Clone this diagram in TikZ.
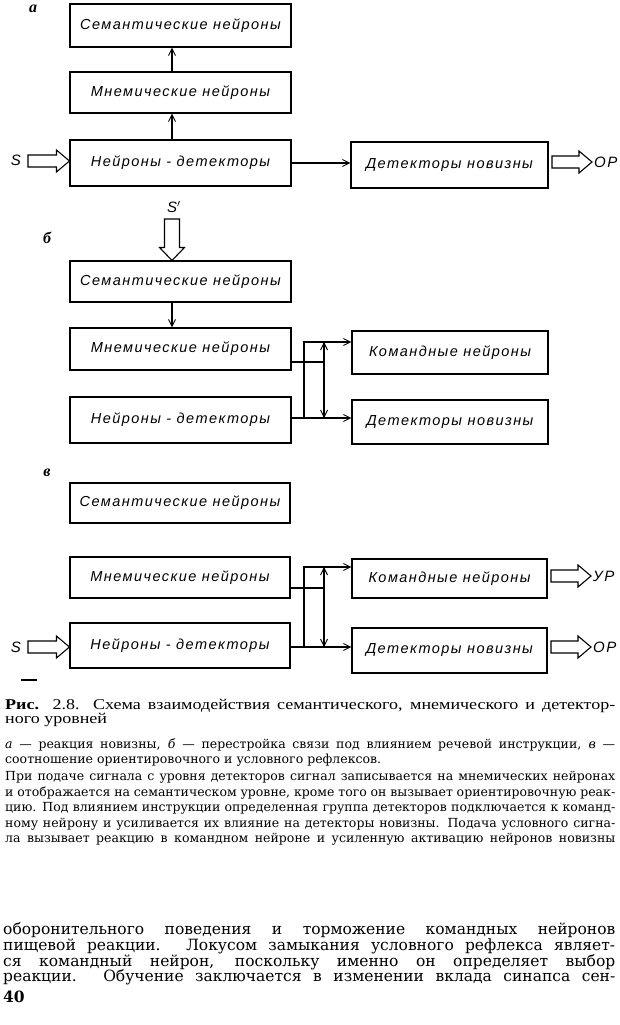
\documentclass[tikz,border=0pt]{standalone}
\usepackage{fontspec}
\setmainfont{DejaVu Serif}
\newfontfamily\boxf{Liberation Sans}[LetterSpace=10.0]
\newfontfamily\serf{Liberation Serif}
\newfontfamily\headf{Liberation Serif}[FakeStretch=1.2]
\usetikzlibrary{arrows.meta,calc}
\newcommand\hollowE[2]{\draw[hollow] let \p1=(#1), \p2=(#2) in
  (\x1,\y1+6pt) -- (\x2-13pt,\y1+6pt) -- (\x2-13pt,\y1+11pt) -- (\x2,\y1)
  -- (\x2-13pt,\y1-11pt) -- (\x2-13pt,\y1-6pt) -- (\x1,\y1-6pt) -- cycle;}
\newcommand\hollowS[2]{\draw[hollow] let \p1=(#1), \p2=(#2) in
  (\x1-7.5pt,\y1) -- (\x1-7.5pt,\y2+13pt) -- (\x1-12.5pt,\y2+13pt) -- (\x1,\y2)
  -- (\x1+12.5pt,\y2+13pt) -- (\x1+7.5pt,\y2+13pt) -- (\x1+7.5pt,\y1) -- cycle;}
\tikzset{
  boxnode/.style={draw, line width=1.1pt, inner sep=0pt, font=\boxf\itshape\fontsize{14.5}{16}\selectfont},
  conn/.style={line width=1.8pt, line join=miter, -{Straight Barb[length=7pt,width=7pt,line width=0.9pt]}},
  dconn/.style={line width=1.8pt, {Straight Barb[length=7pt,width=7pt,line width=0.9pt]}-{Straight Barb[length=7pt,width=7pt,line width=0.9pt]}},
  wire/.style={line width=1.8pt},
  hollow/.style={draw, line width=1.1pt, fill=white, line join=miter},
  sigtxt/.style={inner sep=0pt, font=\boxf\itshape\fontsize{15}{16}\selectfont},
  plabel/.style={inner sep=0pt, font=\serf\bfseries\itshape\fontsize{16}{16}\selectfont},
  headtxt/.style={anchor=base west, inner sep=0pt, font=\headf\fontsize{15}{16}\selectfont},
  captxt/.style={anchor=base west, inner sep=0pt, font=\fontsize{12.5}{14}\selectfont},
  bodytxt/.style={anchor=base west, inner sep=0pt, font=\fontsize{15.5}{17}\selectfont},
}
\begin{document}
\begin{tikzpicture}[x=1pt,y=-1pt]
\useasboundingbox (0,0) rectangle (620,1025);
\fill[white] (0,0) rectangle (620,1025);

% ---------------- panel a
\node[plabel] (la) at (33,9) {а};
\node[boxnode, minimum width=221pt, minimum height=43pt] (asem) at (180.5,25.5) {Семантические нейроны};
\node[boxnode, minimum width=221pt, minimum height=41pt] (amne) at (180.5,92.5) {Мнемические нейроны};
\node[boxnode, minimum width=221pt, minimum height=46pt] (adet) at (180.5,163) {Нейроны - детекторы};
\node[boxnode, minimum width=197pt, minimum height=46pt] (anov) at (449.5,165) {Детекторы новизны};
\coordinate (ax) at (172,0);
\draw[conn] (adet.north -| ax) -- (amne.south -| ax);
\draw[conn] (amne.north -| ax) -- (asem.south -| ax);
\coordinate (ay) at (0,163);
\draw[conn] (adet.east |- ay) -- (anov.west |- ay);
\node[sigtxt] (aS) at (16,160) {S};
\coordinate (aSt) at (28,161);
\hollowE{aSt}{adet.west |- aSt}
\coordinate (aOt) at (552,162);
\coordinate (aOh) at (592,162);
\hollowE{aOt}{aOh}
\node[sigtxt, anchor=west] (aOR) at (594,162) {ОР};

% ---------------- panel b
\node[sigtxt] (bS) at (174,207) {S$'$};
\node[plabel] (lb) at (47,238) {б};
\node[boxnode, minimum width=221pt, minimum height=41pt] (bsem) at (180.5,281.5) {Семантические нейроны};
\node[boxnode, minimum width=221pt, minimum height=42pt] (bmne) at (180.5,349) {Мнемические нейроны};
\node[boxnode, minimum width=221pt, minimum height=46pt] (bdet) at (180.5,420) {Нейроны - детекторы};
\node[boxnode, minimum width=196pt, minimum height=43pt] (bcmd) at (450,352.5) {Командные нейроны};
\node[boxnode, minimum width=196pt, minimum height=44pt] (bnov) at (450,422) {Детекторы новизны};
\coordinate (bSt) at (172,219);
\hollowS{bSt}{bsem.north -| bSt}
\draw[conn] (bsem.south -| ax) -- (bmne.north -| ax);
\coordinate (bxl) at (304,0);
\coordinate (bxr) at (324,0);
\coordinate (btop) at (0,342);
\coordinate (bmid) at (0,362);
\coordinate (bbot) at (0,418);
\draw[conn] (bdet.east |- bbot) -- (bxl |- bbot) -- (bxl |- btop) -- (bcmd.west |- btop);
\draw[conn] (bdet.east |- bbot) -- (bnov.west |- bbot);
\draw[wire] (bmne.east |- bmid) -- (bxr |- bmid);
\draw[dconn] (bxr |- btop) -- (bxr |- bbot);

% ---------------- panel c
\node[plabel] (lc) at (47,473) {в};
\node[boxnode, minimum width=220pt, minimum height=40pt] (csem) at (180,503) {Семантические нейроны};
\node[boxnode, minimum width=220pt, minimum height=41pt] (cmne) at (180,577.5) {Мнемические нейроны};
\node[boxnode, minimum width=220pt, minimum height=45pt] (cdet) at (180,645.5) {Нейроны - детекторы};
\node[boxnode, minimum width=195pt, minimum height=39pt] (ccmd) at (449.5,578.5) {Командные нейроны};
\node[boxnode, minimum width=195pt, minimum height=45pt] (cnov) at (449.5,650.5) {Детекторы новизны};
\coordinate (ctop) at (0,567);
\coordinate (cmid) at (0,588);
\coordinate (cbot) at (0,647);
\draw[conn] (cdet.east |- cbot) -- (bxl |- cbot) -- (bxl |- ctop) -- (ccmd.west |- ctop);
\draw[conn] (cdet.east |- cbot) -- (cnov.west |- cbot);
\draw[wire] (cmne.east |- cmid) -- (bxr |- cmid);
\draw[dconn] (bxr |- ctop) -- (bxr |- cbot);
\node[sigtxt] (cS) at (16,647) {S};
\coordinate (cSt) at (28,647);
\hollowE{cSt}{cdet.west |- cSt}
\coordinate (cUt) at (551,576);
\coordinate (cUh) at (591,576);
\hollowE{cUt}{cUh}
\node[sigtxt, anchor=west] (cUR) at (593,576) {УР};
\coordinate (cOt) at (551,647);
\coordinate (cOh) at (591,647);
\hollowE{cOt}{cOh}
\node[sigtxt, anchor=west] (cOR) at (593,647) {ОР};
\draw[line width=1.6pt] (21,680) -- (37,680);

% ---------------- caption
\node[headtxt] (c1) at (5,709) {\makebox[610pt][s]{\textbf{Рис.} 2.8. Схема взаимодействия семантического, мнемического и детектор-}};
\node[headtxt] (c2) at (5,723) {ного уровней};
\node[captxt] (c3) at (5,748) {\makebox[610pt][s]{\textit{а} — реакция новизны, \textit{б} — перестройка связи под влиянием речевой инструкции, \textit{в} —}};
\node[captxt] (c4) at (5,763) {соотношение ориентировочного и условного рефлексов.};
\node[captxt] (c5) at (5,780) {\makebox[610pt][s]{При подаче сигнала с уровня детекторов сигнал записывается на мнемических нейронах}};
\node[captxt] (c6) at (5,796) {\makebox[610pt][s]{и отображается на семантическом уровне, кроме того он вызывает ориентировочную реак-}};
\node[captxt] (c7) at (5,811) {\makebox[610pt][s]{цию. Под влиянием инструкции определенная группа детекторов подключается к команд-}};
\node[captxt] (c8) at (5,827) {\makebox[610pt][s]{ному нейрону и усиливается их влияние на детекторы новизны. Подача условного сигна-}};
\node[captxt] (c9) at (5,842) {\makebox[610pt][s]{ла вызывает реакцию в командном нейроне и усиленную активацию нейронов новизны}};

% ---------------- body text
\node[bodytxt] (t1) at (3,934) {\makebox[612pt][s]{оборонительного поведения и торможение командных нейронов}};
\node[bodytxt] (t2) at (3,950) {\makebox[612pt][s]{пищевой реакции. Локусом замыкания условного рефлекса являет-}};
\node[bodytxt] (t3) at (3,966) {\makebox[612pt][s]{ся командный нейрон, поскольку именно он определяет выбор}};
\node[bodytxt] (t4) at (3,981) {\makebox[612pt][s]{реакции. Обучение заключается в изменении вклада синапса сен-}};
\node[bodytxt, font=\bfseries\fontsize{15.5}{17}\selectfont] (pg) at (3,1002) {40};
\end{tikzpicture}
\end{document}
